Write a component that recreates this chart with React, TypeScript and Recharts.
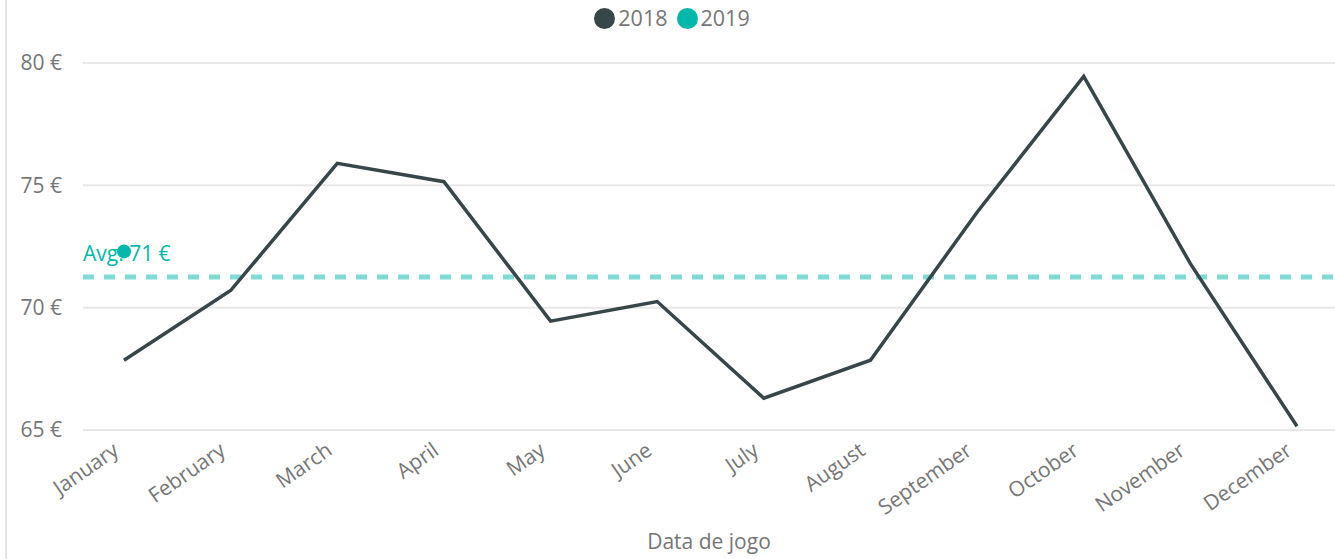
import React from "react";
import { LineChart, Line, XAxis, YAxis, CartesianGrid, ReferenceLine } from "recharts";

const months = ["January","February","March","April","May","June","July","August","September","October","November","December"];
const values2018 = [67.85, 70.7, 75.9, 75.15, 69.45, 70.25, 66.3, 67.85, 73.9, 79.45, 71.8, 65.15];
const values2019: (number | null)[] = [72.3, null, null, null, null, null, null, null, null, null, null, null];
const yTicks = [65, 70, 75, 80];
const avgValue = 71.25;
const avgLabel = "Avg: 71 €";
const seriesNames = ["2018", "2019"];
const seriesColors = ["#374649", "#01B8AA"];

const data = months.map((m, i) => ({ month: m, s2018: values2018[i], s2019: values2019[i] }));

const FONT = "'Open Sans', 'Noto Sans', sans-serif";
const GRAY = "#767676";
const FS = 21;

const AvgLabel = (props: any) => {
  const vb = props.viewBox || {};
  return (
    <text x={vb.x} y={vb.y - 16} fill="#01B8AA" fontSize={21} fontFamily={FONT} textAnchor="start">
      {avgLabel}
    </text>
  );
};

const MonthTick = (props: any) => {
  const { x, y, payload } = props;
  return (
    <g transform={`translate(${x},${y})`}>
      <text x={0} y={0} dx={-12} dy="0.5em" transform="rotate(-35)" textAnchor="end" fill={GRAY} fontSize={FS} fontFamily={FONT}>
        {payload.value}
      </text>
    </g>
  );
};

export default function App() {
  return (
    <div style={{ position: "absolute", left: 0, top: 0, width: 1335, height: 559, background: "#fff", fontFamily: FONT }}>
      <div style={{ position: "absolute", left: 5, top: 0, width: 2, height: 559, background: "#e6e6e6" }} />
      <div style={{ position: "absolute", left: 0, top: 3, width: 1335, display: "flex", justifyContent: "center", alignItems: "center", paddingLeft: 18, boxSizing: "border-box" }}>
        {seriesNames.map((n, i) => (
          <div key={n} style={{ display: "flex", alignItems: "center", marginRight: 9 }}>
            <span style={{ display: "inline-block", width: 21, height: 21, borderRadius: 11, background: seriesColors[i], marginRight: 3 }} />
            <span style={{ fontSize: 21.5, color: GRAY, lineHeight: "30px" }}>{n}</span>
          </div>
        ))}
      </div>
      <LineChart width={1335} height={559} data={data} margin={{ top: 63, right: 0, left: 0, bottom: 0 }}>
        <CartesianGrid vertical={false} stroke="#e8e8e8" strokeWidth={2} />
        <XAxis
          dataKey="month"
          axisLine={false}
          tickLine={false}
          tickSize={0}
          tickMargin={8}
          height={129}
          padding={{ left: 41, right: 38 }}
          interval={0}
          tick={<MonthTick />}
          label={{ value: "Data de jogo", position: "insideBottom", offset: 10, fill: GRAY, fontSize: FS, fontFamily: FONT }}
        />
        <YAxis
          domain={[65, 80]}
          ticks={yTicks}
          axisLine={false}
          tickLine={false}
          tickSize={0}
          tickMargin={21}
          width={83}
          tickFormatter={(v: number) => `${v} €`}
          tick={{ fill: GRAY, fontSize: FS, fontFamily: FONT }}
        />
        <ReferenceLine y={avgValue} stroke="#01B8AA" strokeOpacity={0.5} strokeWidth={5} strokeDasharray="11 10" label={<AvgLabel />} />
        <Line dataKey="s2018" stroke={seriesColors[0]} strokeWidth={3.5} dot={false} isAnimationActive={false} type="linear" />
        <Line dataKey="s2019" stroke={seriesColors[1]} strokeWidth={3} dot={{ r: 7, fill: seriesColors[1], stroke: seriesColors[1], strokeWidth: 0 }} isAnimationActive={false} type="linear" />
      </LineChart>
    </div>
  );
}
